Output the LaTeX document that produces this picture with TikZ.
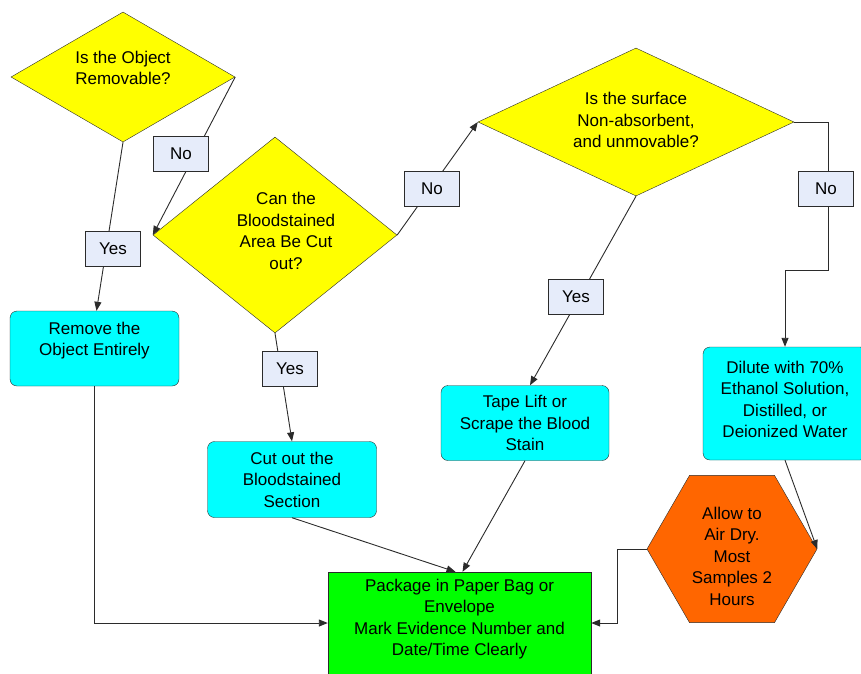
\documentclass[tikz,border=0pt]{standalone}
\usepackage{fontspec}
\setmainfont{Liberation Sans}
\usetikzlibrary{positioning,shapes.geometric,arrows.meta,calc}

\definecolor{linec}{HTML}{2B2B2B}
\definecolor{tagfill}{HTML}{E6ECFA}
\definecolor{aqua}{HTML}{00FFFF}
\definecolor{drygreen}{HTML}{00FF00}
\definecolor{dryorange}{HTML}{FF6600}
\definecolor{qyellow}{HTML}{FFFF00}

\begin{document}
\begin{tikzpicture}[
    x=1pt, y=1pt,
    font=\fontsize{17}{21.5}\selectfont,
    every label/.style={align=center, inner sep=0pt},
    question/.style={diamond, draw=linec, fill=qyellow, inner sep=0pt},
    action/.style={rectangle, rounded corners=7pt, draw=linec, fill=aqua, align=center, inner sep=0pt},
    tag/.style={rectangle, draw=linec, fill=tagfill, minimum width=55pt, minimum height=35pt, inner sep=0pt},
    flow/.style={draw=linec, line width=0.9pt, -{Triangle[length=9pt,width=7pt]}}
]
    \useasboundingbox (0,0) rectangle (861,-673);

    \node[question, minimum width=224pt, minimum height=130pt,
          label={[yshift=9pt]center:Is the Object\\Removable?}] (objq) at (123,-77) {};
    \node[question, minimum width=244pt, minimum height=196pt,
          label={[xshift=11pt,yshift=4pt]center:Can the\\Bloodstained\\Area Be Cut\\out?}] (cutq) at (275,-235) {};
    \node[question, minimum width=316pt, minimum height=148pt,
          label={[yshift=2pt]center:Is the surface\\Non-absorbent,\\and unmovable?}] (surfq) at (636,-122) {};

    \node[action, minimum width=169pt, minimum height=75pt,
          label={[yshift=8pt]center:Remove the\\Object Entirely}] (remove) at (94.5,-348.5) {};
    \node[action, minimum width=169pt, minimum height=76pt] (cutout) at (292,-479.5) {Cut out the\\Bloodstained\\Section};
    \node[action, minimum width=168pt, minimum height=75pt] (tape) at (525,-423) {Tape Lift or\\Scrape the Blood\\Stain};
    \node[action, minimum width=164pt, minimum height=113pt,
          label={[yshift=4pt]center:Dilute with 70\%\\Ethanol Solution,\\Distilled, or\\Deionized Water}] (dilute) at (785,-403.5) {};

    \node[regular polygon, regular polygon sides=6, minimum size=170pt, inner sep=0pt,
          draw=linec, fill=dryorange,
          label={[yshift=-7pt]center:Allow to\\Air Dry.\\Most\\Samples 2\\Hours}] (airdry) at (732,-549) {};

    \node[rectangle, draw=linec, fill=drygreen, minimum width=263pt, minimum height=102pt, inner sep=0pt,
          label={[yshift=4pt]center:Package in Paper Bag or\\Envelope\\Mark Evidence Number and\\Date/Time Clearly}] (package) at (459.5,-623) {};

    \coordinate (bend1) at (828,-270);

    \draw[flow] (objq.east) -- (cutq.west);
    \draw[flow] (objq.south) -- ($(remove.north)+(2,0)$);
    \draw[flow] (cutq.south) -- (cutout.north);
    \draw[flow] (cutq.east) -- (surfq.west);
    \draw[flow] (surfq.south) -- ($(tape.north)+(5,0)$);
    \draw[flow] (surfq.east) -| (bend1) -| (dilute.north);
    \draw[flow] (dilute.south) -- (airdry.east);
    \draw[flow] (airdry.west) -- ++(-29,0) |- (package.east);
    \draw[flow] (remove.south) |- (package.west);
    \draw[flow] (cutout.south) -- ($(package.north)+(-4,0)$);
    \draw[flow] (tape.south) -- ($(package.north)+(3,0)$);

    \node[tag] (tagno1) at (181,-154) {No};
    \node[tag] (tagyes1) at (113,-249) {Yes};
    \node[tag] (tagno2) at (432,-189) {No};
    \node[tag] (tagyes2) at (290,-369) {Yes};
    \node[tag] (tagyes3) at (576,-297) {Yes};
    \node[tag] (tagno3) at (826,-189) {No};
\end{tikzpicture}
\end{document}
